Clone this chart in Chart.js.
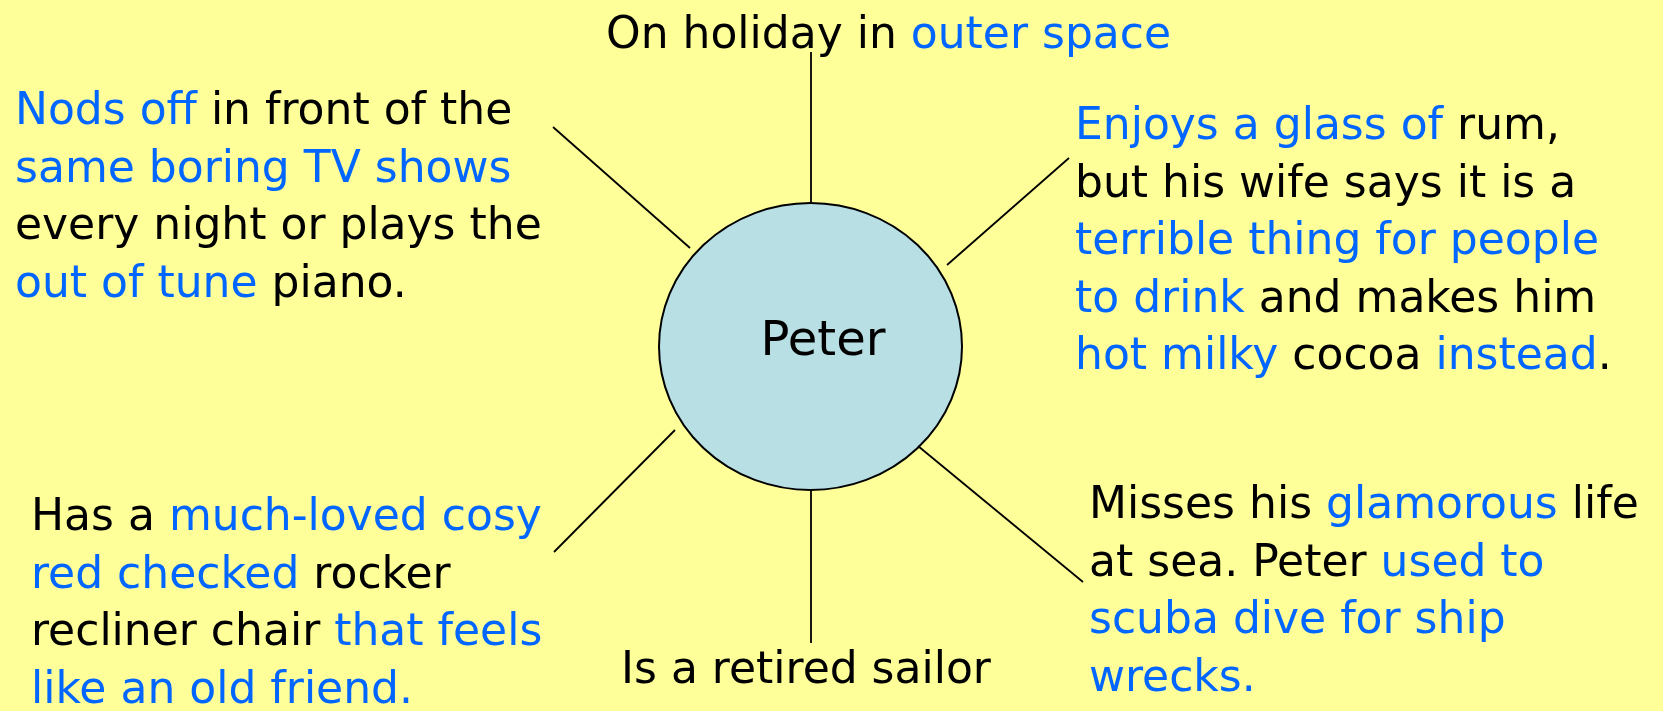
<!DOCTYPE html>
<html>
<head>
<meta charset="utf-8">
<title>Peter</title>
<script src="https://cdn.jsdelivr.net/npm/chart.js@4/dist/chart.umd.min.js"></script>
<style>
  html, body { margin: 0; padding: 0; background: #FFFF99; }
  #wrap { position: relative; width: 1663px; height: 711px; }
</style>
</head>
<body>
<div id="wrap"><canvas id="myChart"></canvas></div>
<script>
// centre node
var centerLabel = 'Peter';
var centerX = 810.5, centerY = 346.5;
var centerRx = 151.5, centerRy = 143.5;

// spokes: inner end (on the circle) and outer end (near the note)
var spokeInX = [811, 811, 690, 947, 675, 918];
var spokeInY = [203, 490, 248, 265, 430, 446];
var spokeOutX = [811, 811, 553, 1069, 554, 1083];
var spokeOutY = [52, 643, 127, 158, 552, 582];

// notes: each line is a list of [text, highlighted]
var noteTop = [
	[['On holiday in ', 0], ['outer space', 1]]
];
var noteUpperLeft = [
	[['Nods off', 1], [' in front of the', 0]],
	[['same boring TV shows', 1]],
	[['every night or plays the', 0]],
	[['out of tune', 1], [' piano.', 0]]
];
var noteUpperRight = [
	[['Enjoys a glass of', 1], [' rum,', 0]],
	[['but his wife says it is a', 0]],
	[['terrible thing for people', 1]],
	[['to drink', 1], [' and makes him', 0]],
	[['hot milky', 1], [' cocoa ', 0], ['instead', 1], ['.', 0]]
];
var noteLowerLeft = [
	[['Has a ', 0], ['much-loved cosy', 1]],
	[['red checked', 1], [' rocker', 0]],
	[['recliner chair ', 0], ['that feels', 1]],
	[['like an old friend.', 1]]
];
var noteBottom = [
	[['Is a retired sailor', 0]]
];
var noteLowerRight = [
	[['Misses his ', 0], ['glamorous', 1], [' life', 0]],
	[['at sea. Peter ', 0], ['used to', 1]],
	[['scuba dive for ship', 1]],
	[['wrecks.', 1]]
];

// where each note starts (left x, first baseline)
var notes = [
	{ lines: noteTop, x: 606, y: 48 },
	{ lines: noteUpperLeft, x: 15, y: 124 },
	{ lines: noteUpperRight, x: 1075, y: 139 },
	{ lines: noteLowerLeft, x: 31, y: 530 },
	{ lines: noteBottom, x: 621, y: 683 },
	{ lines: noteLowerRight, x: 1089, y: 518 }
];

var lineGap = 57.5;
var fontSize = 44;
var fontFamily = '"DejaVu Sans", sans-serif';
var blue = '#0066FF';
var ink = '#000000';

var spokeSets = [];
for (var i = 0; i < spokeInX.length; i++) {
	spokeSets.push({
		data : [ { x : spokeInX[i], y : spokeInY[i] }, { x : spokeOutX[i], y : spokeOutY[i] } ],
		showLine : true,
		borderColor : ink,
		borderWidth : 1.8,
		pointRadius : 0,
		fill : false
	});
}

var mindMap = {
	id : 'mindMap',
	beforeDraw : function(chart) {
		var c = chart.ctx;
		c.save();
		c.fillStyle = '#FFFF99';
		c.fillRect(0, 0, chart.width, chart.height);
		c.restore();
	},
	beforeDatasetsDraw : function(chart) {
		var c = chart.ctx, sx = chart.scales.x, sy = chart.scales.y;
		var px = sx.getPixelForValue(centerX), py = sy.getPixelForValue(centerY);
		var rx = Math.abs(sx.getPixelForValue(centerX + centerRx) - px);
		var ry = Math.abs(sy.getPixelForValue(centerY + centerRy) - py);
		c.save();
		c.beginPath();
		c.ellipse(px, py, rx, ry, 0, 0, Math.PI * 2);
		c.fillStyle = '#B8DFE4';
		c.fill();
		c.lineWidth = 2;
		c.strokeStyle = ink;
		c.stroke();
		c.restore();
	},
	afterDatasetsDraw : function(chart) {
		var c = chart.ctx, sx = chart.scales.x, sy = chart.scales.y;
		c.save();
		c.font = fontSize + 'px ' + fontFamily;
		c.textBaseline = 'alphabetic';
		c.textAlign = 'left';
		notes.forEach(function(n) {
			n.lines.forEach(function(line, k) {
				var x = sx.getPixelForValue(n.x);
				var y = sy.getPixelForValue(n.y + k * lineGap);
				line.forEach(function(seg) {
					c.fillStyle = seg[1] ? blue : ink;
					c.fillText(seg[0], x, y);
					x += c.measureText(seg[0]).width;
				});
			});
		});
		// centre label
		c.fillStyle = ink;
		c.textAlign = 'center';
		c.font = '48px ' + fontFamily;
		c.fillText(centerLabel, sx.getPixelForValue(823), sy.getPixelForValue(355));
		c.restore();
	}
};

var ctxD = document.getElementById('myChart').getContext('2d');
var myChart = new Chart(ctxD, {
	type : 'scatter',
	data : { datasets : spokeSets },
	options : {
		responsive : true,
		maintainAspectRatio : false,
		animation : false,
		layout : { padding : 0 },
		plugins : { legend : { display : false }, tooltip : { enabled : false } },
		scales : {
			x : { type : 'linear', min : 0, max : 1663, display : false },
			y : { type : 'linear', min : 0, max : 711, reverse : true, display : false }
		}
	},
	plugins : [ mindMap ]
});
</script>
</body>
</html>
